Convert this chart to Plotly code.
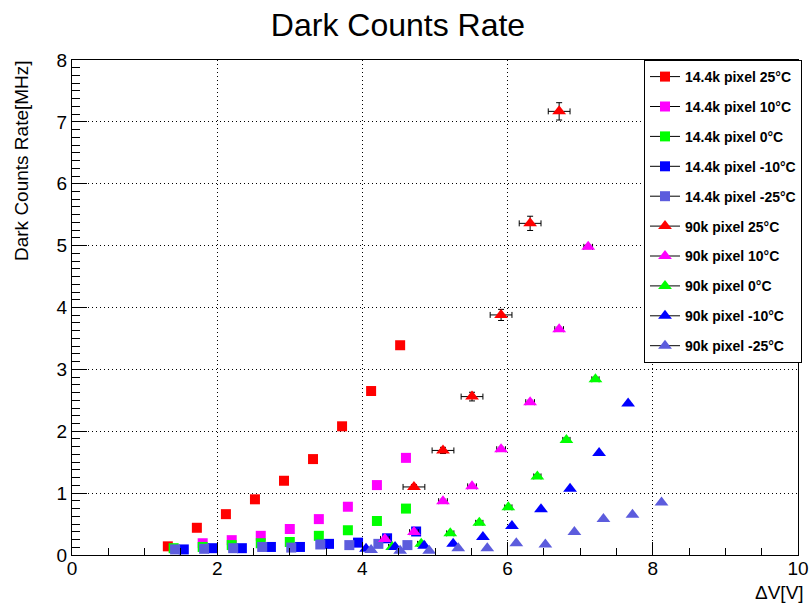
import plotly.graph_objects as go

# ---- 14.4k pixel devices (squares) ----
sq25_x = [1.32, 1.72, 2.12, 2.52, 2.92, 3.32, 3.72, 4.12, 4.52]
sq25_y = [0.14, 0.44, 0.66, 0.90, 1.20, 1.55, 2.08, 2.65, 3.39]
sq10_x = [1.80, 2.20, 2.60, 3.00, 3.40, 3.80, 4.20, 4.60]
sq10_y = [0.19, 0.24, 0.31, 0.42, 0.58, 0.78, 1.13, 1.57]
sq0_x = [1.40, 1.80, 2.20, 2.60, 3.00, 3.40, 3.80, 4.20, 4.60]
sq0_y = [0.11, 0.13, 0.16, 0.19, 0.21, 0.31, 0.40, 0.55, 0.75]
sqm10_x = [1.54, 1.94, 2.34, 2.74, 3.14, 3.54, 3.94, 4.34, 4.74]
sqm10_y = [0.09, 0.11, 0.11, 0.13, 0.13, 0.18, 0.20, 0.27, 0.38]
sqm25_x = [1.42, 1.82, 2.22, 2.62, 3.02, 3.42, 3.82, 4.22, 4.62]
sqm25_y = [0.09, 0.10, 0.11, 0.13, 0.12, 0.17, 0.16, 0.18, 0.16]

# ---- 90k pixel devices (triangles, with errors) ----
tr25_x = [4.71, 5.11, 5.51, 5.91, 6.31, 6.71]
tr25_y = [1.10, 1.69, 2.56, 3.88, 5.36, 7.17]
tr25_ex = [0.15, 0.15, 0.15, 0.15, 0.15, 0.15]
tr25_ey = [0.04, 0.05, 0.07, 0.09, 0.115, 0.14]
tr10_x = [4.31, 4.71, 5.11, 5.51, 5.91, 6.31, 6.71, 7.11]
tr10_y = [0.26, 0.37, 0.87, 1.11, 1.71, 2.47, 3.65, 4.98]
tr10_ex = [0.06] * 8
tr10_ey = [0.03] * 8
tr0_x = [4.41, 4.81, 5.21, 5.61, 6.01, 6.41, 6.81, 7.21]
tr0_y = [0.13, 0.18, 0.35, 0.52, 0.77, 1.27, 1.86, 2.84]
tr0_ex = [0.05] * 8
tr0_ey = [0.03] * 8
trm10_x = [4.05, 4.45, 4.85, 5.25, 5.66, 6.06, 6.46, 6.86, 7.26, 7.66]
trm10_y = [0.10, 0.13, 0.15, 0.18, 0.29, 0.47, 0.74, 1.07, 1.65, 2.45]
trm25_x = [4.12, 4.52, 4.92, 5.32, 5.72, 6.12, 6.52, 6.92, 7.32, 7.72, 8.12]
trm25_y = [0.08, 0.07, 0.07, 0.11, 0.11, 0.19, 0.17, 0.37, 0.58, 0.65, 0.85]

RED, MAG, GRN, BLU, SLT = "#ff0000", "#ff00ff", "#00ff00", "#0000ff", "#5c5cdd"

series = [
    ("14.4k pixel 25°C", sq25_x, sq25_y, None, None, RED, "square"),
    ("14.4k pixel 10°C", sq10_x, sq10_y, None, None, MAG, "square"),
    ("14.4k pixel 0°C", sq0_x, sq0_y, None, None, GRN, "square"),
    ("14.4k pixel -10°C", sqm10_x, sqm10_y, None, None, BLU, "square"),
    ("14.4k pixel -25°C", sqm25_x, sqm25_y, None, None, SLT, "square"),
    ("90k pixel 25°C", tr25_x, tr25_y, tr25_ex, tr25_ey, RED, "triangle-up"),
    ("90k pixel 10°C", tr10_x, tr10_y, tr10_ex, tr10_ey, MAG, "triangle-up"),
    ("90k pixel 0°C", tr0_x, tr0_y, tr0_ex, tr0_ey, GRN, "triangle-up"),
    ("90k pixel -10°C", trm10_x, trm10_y, None, None, BLU, "triangle-up"),
    ("90k pixel -25°C", trm25_x, trm25_y, None, None, SLT, "triangle-up"),
]

fig = go.Figure()
for i, (name, xs, ys, ex, ey, col, sym) in enumerate(series):
    msize = 10 if sym == "square" else 12
    kw = {}
    if ex is not None:
        kw["error_x"] = dict(type="data", array=ex, color="black", thickness=1, width=3)
        kw["error_y"] = dict(type="data", array=ey, color="black", thickness=1, width=3)
    fig.add_trace(go.Scatter(
        x=xs, y=ys, mode="markers", name=name, legendgroup=f"g{i}", showlegend=False,
        marker=dict(symbol=sym, size=msize, color=col, line=dict(width=0)), **kw))
    # legend entry: short black line through the marker
    fig.add_trace(go.Scatter(
        x=[None], y=[None], mode="lines+markers", name=name, legendgroup=f"g{i}",
        line=dict(color="black", width=1),
        marker=dict(symbol=sym, size=msize, color=col, line=dict(width=0))))

L, R, T, B = 72, 13, 60, 52
W, H = 811, 607
pw, ph = W - L - R, H - T - B

axis_font = dict(family="Liberation Sans, Arial, sans-serif", size=19, color="black")

fig.update_layout(
    width=W, height=H,
    margin=dict(l=L, r=R, t=T, b=B, pad=0, autoexpand=False),
    paper_bgcolor="white", plot_bgcolor="white",
    font=axis_font,
    title=dict(text="Dark Counts Rate", x=398 / W, xanchor="center",
               y=1 - 25 / H, yanchor="middle", yref="container",
               font=dict(family="Liberation Sans, Arial, sans-serif", size=32, color="black")),
    xaxis=dict(range=[0, 10], dtick=2, tick0=0, showgrid=True, gridcolor="black",
               griddash="1px,3px", gridwidth=1, zeroline=False,
               showline=True, linecolor="black", linewidth=1, mirror=True,
               ticks="inside", ticklen=13, tickcolor="black", tickwidth=1,
               ticklabelstandoff=-4,
               minor=dict(dtick=0.5, ticks="inside", ticklen=7, tickcolor="black", showgrid=False),
               tickfont=axis_font),
    yaxis=dict(range=[0, 8], dtick=1, tick0=0, showgrid=True, gridcolor="black",
               griddash="1px,3px", gridwidth=1, zeroline=False,
               showline=True, linecolor="black", linewidth=1, mirror=True,
               ticks="inside", ticklen=15, tickcolor="black", tickwidth=1,
               minor=dict(dtick=0.125, ticks="inside", ticklen=8, tickcolor="black", showgrid=False),
               tickfont=axis_font),
    legend=dict(x=(644 - L) / pw, xanchor="left", y=1.0, yanchor="top",
                bgcolor="white", bordercolor="black", borderwidth=1,
                traceorder="grouped", tracegroupgap=8.7,
                font=dict(family="Liberation Sans, Arial, sans-serif", size=14,
                          color="black", weight="bold")),
    annotations=[
        dict(text="ΔV[V]", xref="paper", yref="paper", x=(806 - L) / pw, y=(555 - 592) / ph,
             xanchor="right", yanchor="middle", showarrow=False, font=axis_font),
        dict(text="Dark Counts Rate[MHz]", xref="paper", yref="paper",
             x=(21 - L) / pw, y=(555 - 161) / ph, xanchor="center", yanchor="middle",
             textangle=-90, showarrow=False, font=axis_font),
    ],
)

fig.write_html("out.html")
